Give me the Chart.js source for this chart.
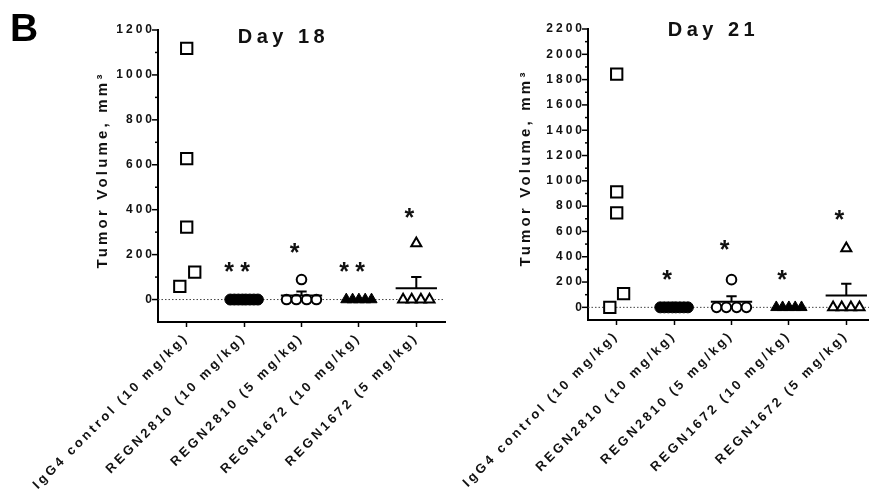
<!DOCTYPE html>
<html>
<head>
<meta charset="utf-8">
<script src="https://cdn.jsdelivr.net/npm/chart.js@4.4.0/dist/chart.umd.min.js"></script>
<style>
  html, body { margin: 0; padding: 0; background: #fff; width: 869px; height: 493px; overflow: hidden; }
  #wrap { position: relative; width: 869px; height: 493px; overflow: hidden; }
  canvas { position: absolute; top: 0; }
  #day18 { left: 0; }
  #day21 { left: 440px; }
</style>
</head>
<body>
<div id="wrap">
  <canvas id="day18" width="455" height="493"></canvas>
  <canvas id="day21" width="445" height="493"></canvas>
</div>
<script>
const groups = [
  "IgG4 control (10 mg/kg)",
  "REGN2810 (10 mg/kg)",
  "REGN2810 (5 mg/kg)",
  "REGN1672 (10 mg/kg)",
  "REGN1672 (5 mg/kg)"
];
const yTicks18 = [0, 200, 400, 600, 800, 1000, 1200];
const yTicks21 = [0, 200, 400, 600, 800, 1000, 1200, 1400, 1600, 1800, 2000, 2200];

// tumor volume per animal, mm3 - day 18
const igg4Day18 = [1118, 627, 322, 122, 59];
const regn2810hiDay18 = [0, 0, 0, 0, 0, 0, 0, 0];
const regn2810loDay18 = [0, 0, 0, 0, 89];
const regn1672hiDay18 = [0, 0, 0, 0, 0];
const regn1672loDay18 = [0, 0, 0, 0, 250];
const mean18 = [null, null, 18, null, 50];
const sem18 = [null, null, 18, null, 50];
const stars18 = ["", "**", "*", "**", "*"];
const starY18 = [null, 152, 236, 152, 393];

// day 21
const igg4Day21 = [1844, 912, 746, 108, 0];
const regn2810hiDay21 = [0, 0, 0, 0, 0, 0, 0, 0];
const regn2810loDay21 = [0, 0, 0, 0, 219];
const regn1672hiDay21 = [0, 0, 0, 0, 0];
const regn1672loDay21 = [0, 0, 0, 0, 466];
const mean21 = [null, null, 44, null, 93];
const sem21 = [null, null, 44, null, 93];
const stars21 = ["", "*", "*", "*", "*"];
const starY21 = [null, 271, 506, 271, 742];

// sideways spread of the dots inside a column (layout only)
const spreadIgg18 = [0, 0, 0, 0.14, -0.12];
const spreadIgg21 = [0, 0, 0, 0.12, -0.12];
const spreadFilledCircle = [-0.24, -0.17, -0.10, -0.03, 0.03, 0.10, 0.17, 0.24];
const spreadOpenCircle = [-0.26, -0.09, 0.09, 0.26, 0];
const spreadFilledTri = [-0.22, -0.11, 0, 0.11, 0.22];
const spreadOpenTri = [-0.23, -0.08, 0.08, 0.23, 0];

const FONT = "'Liberation Sans', Arial, sans-serif";

function points(col, values, spread) {
  return values.map((v, i) => ({ x: col + spread[i], y: v }));
}

function makeDatasets(vals, iggSpread) {
  return [
    { data: points(1, vals[0], iggSpread), pointStyle: "rect", pointRadius: 8, backgroundColor: "#fff", borderColor: "#000", borderWidth: 2 },
    { data: points(2, vals[1], spreadFilledCircle), pointStyle: "circle", pointRadius: 5.5, backgroundColor: "#000", borderColor: "#000", borderWidth: 1 },
    { data: points(3, vals[2], spreadOpenCircle), pointStyle: "circle", pointRadius: 4.8, backgroundColor: "#fff", borderColor: "#000", borderWidth: 2 },
    { data: points(4, vals[3], spreadFilledTri), pointStyle: "triangle", pointRadius: 6.4, backgroundColor: "#000", borderColor: "#000", borderWidth: 1 },
    { data: points(5, vals[4], spreadOpenTri), pointStyle: "triangle", pointRadius: 5.8, backgroundColor: "#fff", borderColor: "#000", borderWidth: 2 }
  ].map(d => Object.assign(d, { clip: false, pointHoverRadius: d.pointRadius }));
}

const overlay = {
  id: "overlay",
  beforeDraw(chart) {
    chart.ctx.letterSpacing = "3px";
  },
  beforeDatasetsDraw(chart) {
    const { ctx, chartArea: a, scales: { y } } = chart;
    ctx.save();
    ctx.letterSpacing = "0px";
    const y0 = y.getPixelForValue(0);
    ctx.strokeStyle = "#444";
    ctx.lineWidth = 1;
    ctx.setLineDash([1.5, 2]);
    ctx.beginPath();
    ctx.moveTo(a.left, y0);
    ctx.lineTo(a.right, y0);
    ctx.stroke();
    ctx.setLineDash([]);
    // tick marks: long at labelled values, short half way
    ctx.strokeStyle = "#000";
    ctx.lineWidth = 1.5;
    for (let v = 0; v <= y.max; v += 100) {
      const p = y.getPixelForValue(v);
      const len = v % 200 === 0 ? 6 : 3;
      ctx.beginPath();
      ctx.moveTo(a.left - len, p);
      ctx.lineTo(a.left, p);
      ctx.stroke();
    }
    ctx.restore();
  },
  afterDatasetsDraw(chart, args, o) {
    const { ctx, scales: { x, y } } = chart;
    ctx.save();
    ctx.letterSpacing = "0px";
    ctx.strokeStyle = "#000";
    ctx.lineWidth = 2;
    o.mean.forEach((m, i) => {
      if (m == null) return;
      const c = i + 1;
      const ym = y.getPixelForValue(m);
      const yt = y.getPixelForValue(m + o.sem[i]);
      ctx.beginPath();
      ctx.moveTo(x.getPixelForValue(c - 0.36), ym);
      ctx.lineTo(x.getPixelForValue(c + 0.36), ym);
      ctx.moveTo(x.getPixelForValue(c), ym);
      ctx.lineTo(x.getPixelForValue(c), yt);
      ctx.moveTo(x.getPixelForValue(c - 0.09), yt);
      ctx.lineTo(x.getPixelForValue(c + 0.09), yt);
      ctx.stroke();
    });
    ctx.fillStyle = "#111";
    ctx.font = "bold 25px " + FONT;
    ctx.textAlign = "center";
    ctx.textBaseline = "alphabetic";
    o.stars.forEach((s, i) => {
      if (!s) return;
      const px = x.getPixelForValue(i + 1 - 0.12);
      const py = y.getPixelForValue(o.starY[i]) + 14.5;
      if (s.length === 2) {
        ctx.fillText("*", px - 8, py);
        ctx.fillText("*", px + 8, py);
      } else {
        ctx.fillText("*", px, py);
      }
    });
    ctx.restore();
  },
  afterDraw(chart, args, o) {
    const { ctx, chartArea: a } = chart;
    ctx.save();
    ctx.fillStyle = "#111";
    ctx.textBaseline = "alphabetic";
    ctx.textAlign = "center";
    ctx.font = "bold 20px " + FONT;
    ctx.letterSpacing = "4.5px";
    ctx.fillText(o.title, (a.left + a.right) / 2 - 20 + 2, o.titleY);

    ctx.save();
    ctx.translate(o.yTitleX, o.yTitleY);
    ctx.rotate(-Math.PI / 2);
    ctx.font = "bold 15px " + FONT;
    ctx.letterSpacing = "3.2px";
    ctx.textBaseline = "middle";
    ctx.fillText("Tumor Volume, mm\u00B3", 0, 0);
    ctx.restore();

    if (o.panel) {
      ctx.letterSpacing = "0px";
      ctx.textAlign = "left";
      ctx.fillStyle = "#000";
      ctx.font = "bold 39px " + FONT;
      ctx.fillText(o.panel, 10, 41);
    }
    ctx.restore();
  }
};

function makeChart(id, cfg) {
  return new Chart(document.getElementById(id), {
    type: "scatter",
    data: { datasets: cfg.datasets },
    plugins: [overlay],
    options: {
      responsive: false,
      animation: false,
      events: [],
      layout: { padding: { left: 0, right: 6, top: cfg.padTop, bottom: 0 } },
      plugins: {
        legend: { display: false },
        tooltip: { enabled: false },
        title: { display: false },
        overlay: {
          mean: cfg.mean, sem: cfg.sem, stars: cfg.stars, starY: cfg.starY,
          title: cfg.title, titleY: cfg.titleY,
          yTitleX: cfg.yTitleX, yTitleY: cfg.yTitleY, panel: cfg.panel
        }
      },
      scales: {
        x: {
          type: "linear",
          min: 0.5,
          max: 5.5,
          afterBuildTicks: s => { s.ticks = groups.map((g, i) => ({ value: i + 1 })); },
          afterFit: s => { s.height = cfg.xHeight; },
          ticks: {
            autoSkip: false,
            minRotation: 45,
            maxRotation: 45,
            padding: 3,
            color: "#111",
            font: { family: FONT, size: 13, weight: "bold" },
            callback: v => groups[Math.round(v) - 1]
          },
          grid: { display: true, drawOnChartArea: false, drawTicks: true, tickLength: 5, color: "#000", tickWidth: 1.5 },
          border: { display: true, color: "#000", width: 2 }
        },
        y: {
          type: "linear",
          min: -100,
          max: cfg.yMax,
          afterBuildTicks: s => { s.ticks = cfg.yTicks.map(v => ({ value: v })); },
          afterFit: s => { s.width = cfg.yWidth; },
          ticks: {
            padding: 3,
            color: "#111",
            font: { family: FONT, size: 12, weight: "bold" },
            callback: v => String(v)
          },
          grid: { display: false, drawTicks: false },
          border: { display: true, color: "#000", width: 2 }
        }
      }
    }
  });
}

makeChart("day18", {
  datasets: makeDatasets([igg4Day18, regn2810hiDay18, regn2810loDay18, regn1672hiDay18, regn1672loDay18], spreadIgg18),
  mean: mean18, sem: sem18, stars: stars18, starY: starY18,
  yMax: 1200, yTicks: yTicks18,
  title: "Day 18", titleY: 43, yTitleX: 103, yTitleY: 170, panel: "B",
  padTop: 30, yWidth: 158, xHeight: 171
});

makeChart("day21", {
  datasets: makeDatasets([igg4Day21, regn2810hiDay21, regn2810loDay21, regn1672hiDay21, regn1672loDay21], spreadIgg21),
  mean: mean21, sem: sem21, stars: stars21, starY: starY21,
  yMax: 2200, yTicks: yTicks21,
  title: "Day 21", titleY: 36, yTitleX: 86, yTitleY: 168, panel: "",
  padTop: 29, yWidth: 148, xHeight: 173
});
</script>
</body>
</html>
